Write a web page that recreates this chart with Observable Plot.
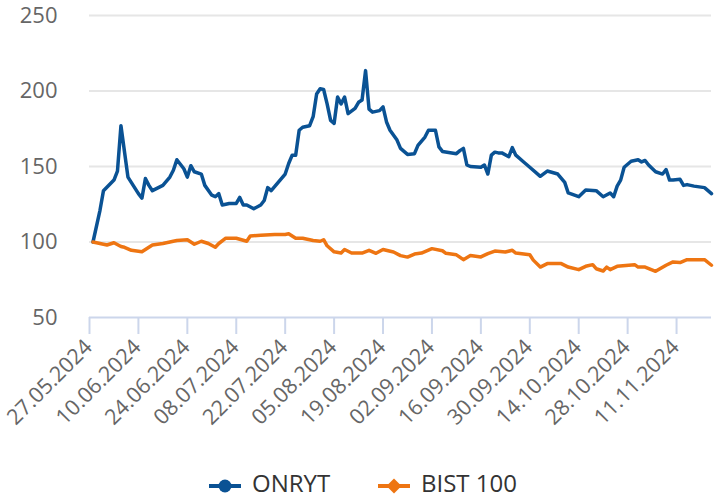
<!DOCTYPE html>
<html><head><meta charset="utf-8">
<script src="https://cdn.jsdelivr.net/npm/d3@7"></script>
<script src="https://cdn.jsdelivr.net/npm/@observablehq/plot@0.6"></script>
<style>
html,body{margin:0;padding:0;background:#fff;}
#wrap{position:relative;width:714px;height:499px;font-family:"Open Sans",sans-serif;}
#chart svg{display:block;}
.leg{position:absolute;top:466px;line-height:normal;font-size:24px;color:#333;white-space:nowrap;}
.sym{position:absolute;top:474px;}
</style></head><body><div id="wrap"><div id="chart"></div></div>
<script>
const seriesNames = ["ONRYT", "BIST 100"];
const seriesColors = ["#0a5294", "#ee7512"];

const onrytDates = ["2024-05-28","2024-05-30","2024-05-31","2024-06-03","2024-06-04","2024-06-05","2024-06-07","2024-06-10","2024-06-11","2024-06-12","2024-06-13","2024-06-14","2024-06-17","2024-06-19","2024-06-20","2024-06-21","2024-06-23","2024-06-24","2024-06-25","2024-06-26","2024-06-28","2024-06-29","2024-07-01","2024-07-02","2024-07-03","2024-07-04","2024-07-06","2024-07-08","2024-07-09","2024-07-10","2024-07-11","2024-07-13","2024-07-15","2024-07-16","2024-07-17","2024-07-18","2024-07-20","2024-07-22","2024-07-23","2024-07-24","2024-07-25","2024-07-26","2024-07-27","2024-07-29","2024-07-30","2024-07-31","2024-08-01","2024-08-02","2024-08-03","2024-08-04","2024-08-05","2024-08-06","2024-08-07","2024-08-08","2024-08-09","2024-08-11","2024-08-12","2024-08-13","2024-08-14","2024-08-15","2024-08-16","2024-08-18","2024-08-19","2024-08-20","2024-08-21","2024-08-23","2024-08-24","2024-08-26","2024-08-28","2024-08-29","2024-08-31","2024-09-01","2024-09-03","2024-09-04","2024-09-05","2024-09-09","2024-09-10","2024-09-11","2024-09-12","2024-09-13","2024-09-16","2024-09-17","2024-09-18","2024-09-19","2024-09-20","2024-09-21","2024-09-22","2024-09-24","2024-09-25","2024-09-26","2024-09-28","2024-09-30","2024-10-03","2024-10-05","2024-10-08","2024-10-10","2024-10-11","2024-10-14","2024-10-16","2024-10-19","2024-10-21","2024-10-23","2024-10-24","2024-10-25","2024-10-26","2024-10-27","2024-10-29","2024-10-31","2024-11-01","2024-11-02","2024-11-03","2024-11-05","2024-11-07","2024-11-08","2024-11-09","2024-11-10","2024-11-12","2024-11-13","2024-11-14","2024-11-16","2024-11-19","2024-11-21"];
const onrytValues = [100,121,134,141,147,177,143,132,129,142,137.5,134,137.5,143,147.5,154.5,148.5,143,150.5,146.5,145,137.5,131,130,132,124.5,125.5,125.5,129.5,124.5,124.5,122,124.5,127.5,136,134,139.5,145,152,157.5,157.5,174,176,177,183,198,201.5,201,191.5,180.5,178.5,196,191.5,196,185,188.5,192.5,194,213.5,188,186,187,189.5,179.5,174,167.5,162,158,158.5,164,169.5,174,174,163,160,158.5,160.5,162,151,150,149.5,151,145,157.5,159.5,159,159,156.5,162.5,157.5,153.5,149.5,143.5,147,145,139.5,132.5,130,134.5,134,130,132.5,130,137,141,149.5,153.5,154.5,153,154,151,146.5,145,148,141,141,141.5,137.5,138,137,136,132];

const bistDates = ["2024-05-28","2024-05-30","2024-06-01","2024-06-03","2024-06-05","2024-06-06","2024-06-08","2024-06-11","2024-06-12","2024-06-14","2024-06-17","2024-06-21","2024-06-24","2024-06-26","2024-06-28","2024-06-30","2024-07-02","2024-07-03","2024-07-05","2024-07-08","2024-07-11","2024-07-12","2024-07-15","2024-07-19","2024-07-22","2024-07-23","2024-07-25","2024-07-27","2024-07-30","2024-08-01","2024-08-02","2024-08-03","2024-08-05","2024-08-07","2024-08-08","2024-08-10","2024-08-13","2024-08-15","2024-08-17","2024-08-19","2024-08-22","2024-08-24","2024-08-26","2024-08-28","2024-08-30","2024-09-02","2024-09-05","2024-09-06","2024-09-09","2024-09-11","2024-09-13","2024-09-16","2024-09-18","2024-09-20","2024-09-23","2024-09-25","2024-09-26","2024-09-30","2024-10-01","2024-10-03","2024-10-05","2024-10-09","2024-10-11","2024-10-14","2024-10-16","2024-10-18","2024-10-19","2024-10-21","2024-10-22","2024-10-23","2024-10-25","2024-10-30","2024-10-31","2024-11-02","2024-11-05","2024-11-08","2024-11-10","2024-11-12","2024-11-14","2024-11-19","2024-11-21"];
const bistValues = [100,99,98,99.5,97,96.5,94.5,93.5,95,98,99,101,101.5,98.5,100.5,99,96.5,99,102.5,102.5,100.5,104,104.5,105,105,105.5,102.5,102.5,101,100.5,101.5,97.5,93.5,92.7,95,92.7,92.7,94.5,92.5,95,93.4,91,90,92,92.7,95.6,94.2,92.5,91.5,88.3,91,90.1,92.3,94,93.4,94.5,92.7,91.6,88,83.4,85.7,85.7,83.4,81.7,83.9,85,82.3,80.8,83.4,81.7,83.9,85,83.4,83.4,80.6,84.6,86.8,86.4,88.3,88.3,84.6];

const xTickDates = ["2024-05-27","2024-06-10","2024-06-24","2024-07-08","2024-07-22","2024-08-05","2024-08-19","2024-09-02","2024-09-16","2024-09-30","2024-10-14","2024-10-28","2024-11-11"];
const yTickValues = [50, 100, 150, 200, 250];
const xDomain = ["2024-05-27", "2024-11-21"];

const parse = d3.utcParse("%Y-%m-%d");
const fmt = d3.utcFormat("%d.%m.%Y");
const onryt = onrytDates.map((d, i) => ({date: parse(d), value: onrytValues[i]}));
const bist = bistDates.map((d, i) => ({date: parse(d), value: bistValues[i]}));
const xTicks = xTickDates.map(parse);

const chart = Plot.plot({
  width: 714, height: 465,
  marginLeft: 89, marginRight: 3, marginTop: 15, marginBottom: 148,
  style: {fontFamily: "'Open Sans', sans-serif", background: "white", overflow: "visible"},
  x: {type: "utc", domain: xDomain.map(parse)},
  y: {domain: [50, 250], axis: null},
  marks: [
    Plot.ruleY(yTickValues.filter(v => v > 50), {stroke: "#e6e6e6", strokeWidth: 2}),
    Plot.text(yTickValues, {y: d => d, frameAnchor: "left", dx: -32, textAnchor: "end", text: d => String(d), fontSize: 22, fill: "#666"}),
    Plot.ruleY([50], {stroke: "#ccd6eb", strokeWidth: 2}),
    Plot.axisX({ticks: xTicks, tickSize: 17, tickFormat: () => "", stroke: "#ccd6eb", strokeWidth: 2}),
    Plot.text(xTicks, {x: d => d, frameAnchor: "bottom", text: d => fmt(d), rotate: -45, textAnchor: "end", lineAnchor: "middle", dx: -1, dy: 26, fontSize: 21.5, fill: "#666"}),
    Plot.line(onryt, {x: "date", y: "value", stroke: seriesColors[0], strokeWidth: 3.5, strokeLinejoin: "round", strokeLinecap: "round"}),
    Plot.line(bist, {x: "date", y: "value", stroke: seriesColors[1], strokeWidth: 3.5, strokeLinejoin: "round", strokeLinecap: "round"})
  ]
});
document.getElementById("chart").appendChild(chart);

// Legend
const wrap = document.getElementById("wrap");
const legendPos = [{sym: 208, text: 252}, {sym: 377, text: 421}];
seriesNames.forEach((name, i) => {
  const s = document.createElementNS("http://www.w3.org/2000/svg", "svg");
  s.setAttribute("width", 34); s.setAttribute("height", 24);
  s.setAttribute("class", "sym");
  s.style.left = legendPos[i].sym + "px";
  const l = document.createElementNS("http://www.w3.org/2000/svg", "line");
  l.setAttribute("x1", 1); l.setAttribute("x2", 33); l.setAttribute("y1", 12); l.setAttribute("y2", 12);
  l.setAttribute("stroke", seriesColors[i]); l.setAttribute("stroke-width", 4);
  s.appendChild(l);
  let m;
  if (i === 0) {
    m = document.createElementNS("http://www.w3.org/2000/svg", "circle");
    m.setAttribute("cx", 17); m.setAttribute("cy", 12); m.setAttribute("r", 6.5);
  } else {
    m = document.createElementNS("http://www.w3.org/2000/svg", "path");
    m.setAttribute("d", "M17,4.5L24.5,12L17,19.5L9.5,12Z");
  }
  m.setAttribute("fill", seriesColors[i]);
  s.appendChild(m);
  wrap.appendChild(s);
  const t = document.createElement("div");
  t.className = "leg";
  t.style.left = legendPos[i].text + "px";
  t.textContent = name;
  wrap.appendChild(t);
});
</script>
</body></html>
